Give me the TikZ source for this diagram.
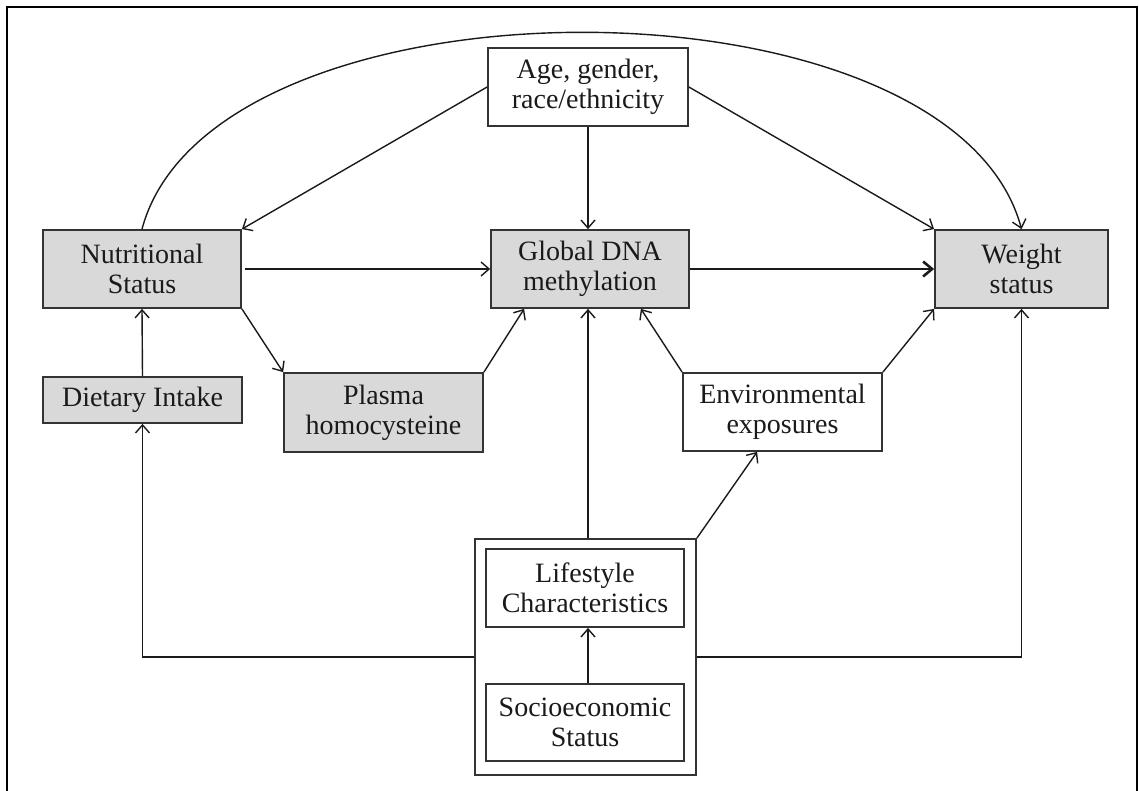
\documentclass[tikz,border=0pt]{standalone}
\usepackage{fontspec}
\setmainfont{Liberation Serif}
\usetikzlibrary{arrows.meta,calc}
\definecolor{boxgray}{HTML}{D9D9D9}
\definecolor{edge}{HTML}{333333}
\definecolor{ink}{HTML}{1A1A1A}
\begin{document}
\begin{tikzpicture}[x=1pt,y=-1pt,
  box/.style={draw=edge,line width=1.8pt,rectangle,inner sep=0pt,align=center,text=ink,
    font=\fontsize{28}{30}\selectfont},
  gbox/.style={box,fill=boxgray},
  arr/.style={draw=ink,line width=1.4pt,-{Straight Barb[length=8pt,width=14pt,line width=1.4pt]}},
  thickarr/.style={draw=ink,line width=2.8pt,-{Straight Barb[length=9pt,width=15pt,line width=2.6pt]}},
  ln/.style={draw=ink,line width=1.4pt}]
\useasboundingbox (0,0) rectangle (1139,791);
\draw[line width=2.6pt,black] (7,792) -- (7,7) -- (1137,7) -- (1137,792);
% nodes
\node[box,minimum width=200,minimum height=78] (age) at (588,87) {Age, gender,\\race/ethnicity};
\node[gbox,minimum width=198,minimum height=78] (nut) at (142,269) {Nutritional\\Status};
\node[gbox,minimum width=198,minimum height=78] (dna) at (590,269) {Global DNA\\methylation};
\node[gbox,minimum width=173,minimum height=78] (wt) at (1021.5,269) {Weight\\status};
\node[gbox,minimum width=199,minimum height=46] (diet) at (142.5,400) {Dietary Intake};
\node[gbox,minimum width=199,minimum height=79] (plasma) at (383.5,412.5) {Plasma\\homocysteine};
\node[box,minimum width=199,minimum height=78] (env) at (782.5,412) {Environmental\\exposures};
\node[box,minimum width=221,minimum height=236] (outer) at (585.5,657) {};
\node[box,minimum width=198,minimum height=78] (life) at (585,588) {Lifestyle\\Characteristics};
\node[box,minimum width=198,minimum height=77] (ses) at (585,722.5) {Socioeconomic\\Status};
% helper coordinates
\coordinate (otop) at ($(outer.north)+(2.5,0)$);
\coordinate (dnain) at (otop |- dna.south);
\coordinate (sestop) at ($(ses.north)+(3,0)$);
\coordinate (lifebot) at ($(life.south)+(3,0)$);
\coordinate (dnapl) at ($(dna.south west)+(34,0)$);
\coordinate (dnaen) at ($(dna.south east)+(-49,0)$);
\coordinate (envbot) at ($(env.south west)+(75,0)$);
% connectors
\draw[arr] (nut.north) .. controls (212,-33) and (951,-33) .. (wt.north);
\draw[arr] (age.west) -- (nut.north east);
\draw[arr] (age.south) -- (age.south |- dna.north);
\draw[arr] (age.east) -- (wt.north west);
\draw[arr,shorten <=3pt] (nut.east) -- (dna.west);
\draw[thickarr] (dna.east) -- (wt.west);
\draw[arr] (diet.north) -- (nut.south);
\draw[arr] (nut.south east) -- (plasma.north west);
\draw[arr] (plasma.north east) -- (dnapl);
\draw[arr] (env.north west) -- (dnaen);
\draw[arr] (env.north east) -- (wt.south west);
\draw[arr] (otop) -- (dnain);
\draw[arr] (outer.north east) -- (envbot);
\draw[arr] (outer.west) -| (diet.south);
\draw[arr] (outer.east) -| (wt.south);
\draw[arr] (sestop) -- (lifebot);
\end{tikzpicture}
\end{document}
